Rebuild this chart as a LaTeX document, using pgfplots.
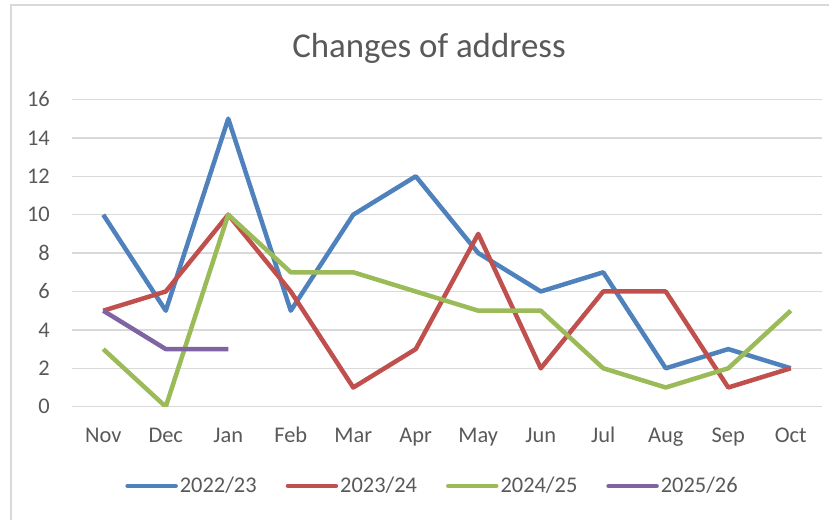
\documentclass[border=0pt]{standalone}
\usepackage{fontspec}
\setmainfont{Carlito}
\usepackage{pgfplots}
\pgfplotsset{compat=1.18}
\definecolor{cA}{HTML}{4F81BD}
\definecolor{cB}{HTML}{C0504D}
\definecolor{cC}{HTML}{9BBB59}
\definecolor{cD}{HTML}{8064A2}
\definecolor{gridc}{HTML}{D9D9D9}
\definecolor{txt}{HTML}{595959}
\begin{document}
\begin{tikzpicture}[x=1bp,y=1bp]
\useasboundingbox (0,0) rectangle (829,520);
\draw[gridc, line width=1.5bp] (11,-20) rectangle (860,515);
\begin{axis}[
  at={(72bp,113.3bp)}, anchor=south west,
  scale only axis, width=750bp, height=307.2bp,
  xmin=-0.5, xmax=11.5, ymin=0, ymax=16,
  ytick={0,2,...,16},
  xtick={0,...,11},
  xticklabels={Nov,Dec,Jan,Feb,Mar,Apr,May,Jun,Jul,Aug,Sep,Oct},
  ymajorgrids, grid style={gridc, line width=1.3bp},
  axis line style={draw=none},
  major tick length=0pt,
  /pgf/number format/assume math mode=true,
  tick label style={font=\fontsize{22.5}{27}\selectfont, text=txt, inner sep=0pt},
  yticklabel shift=22bp,
  xticklabel style={anchor=base},
  xticklabel shift=36bp,
  title={Changes of address},
  title style={at={(0.476,1.116)}, anchor=base, font=\fontsize{35}{40}\selectfont, text=txt, inner sep=0pt},
  legend columns=4,
  legend style={draw=none, fill=none, at={(0.4807,-0.258)}, anchor=center,
    font=\fontsize{22.5}{27}\selectfont, text=txt, inner sep=0pt,
    nodes={inner sep=2bp},
    /tikz/every even column/.append style={column sep=27bp}},
  legend image code/.code={\draw[#1, line cap=round] (0bp,0bp) -- (48bp,0bp);},
  every axis plot/.append style={line width=4.5bp, line join=round},
]
\addplot[cA] coordinates {(0,10) (1,5) (2,15) (3,5) (4,10) (5,12) (6,8) (7,6) (8,7) (9,2) (10,3) (11,2)};
\addlegendentry{2022/23}
\addplot[cB] coordinates {(0,5) (1,6) (2,10) (3,6) (4,1) (5,3) (6,9) (7,2) (8,6) (9,6) (10,1) (11,2)};
\addlegendentry{2023/24}
\addplot[cC] coordinates {(0,3) (1,0) (2,10) (3,7) (4,7) (5,6) (6,5) (7,5) (8,2) (9,1) (10,2) (11,5)};
\addlegendentry{2024/25}
\addplot[cD] coordinates {(0,5) (1,3) (2,3)};
\addlegendentry{2025/26}
\end{axis}
\end{tikzpicture}
\end{document}
